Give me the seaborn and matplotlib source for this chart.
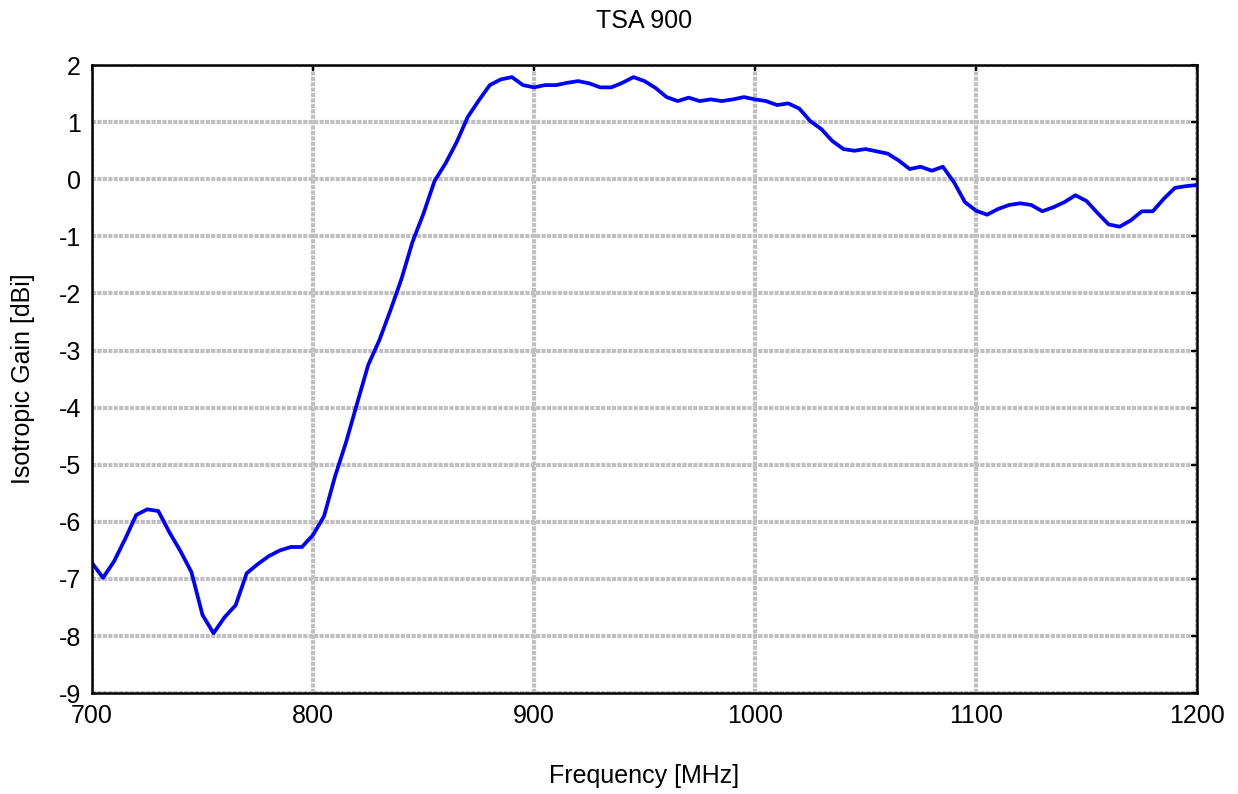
"""
Isotropic gain of the TSA 900 antenna versus frequency.
"""

import pandas as pd
import seaborn as sns
import matplotlib
matplotlib.use('Agg')
import matplotlib.pyplot as plt

# Frequency grid in MHz (5 MHz steps)
frequency_mhz = list(range(700, 1201, 5))

# Gain in dBi
gain_dbi = [
    -6.72, -6.98, -6.69, -6.30, -5.88, -5.78, -5.81, -6.18, -6.51, -6.88,
    -7.63, -7.95, -7.67, -7.46, -6.90, -6.74, -6.60, -6.50, -6.44, -6.44,
    -6.23, -5.90, -5.20, -4.60, -3.92, -3.25, -2.82, -2.30, -1.75, -1.10,
    -0.60, -0.03, 0.28, 0.65, 1.09, 1.38, 1.65, 1.75, 1.79, 1.65,
    1.61, 1.65, 1.65, 1.69, 1.72, 1.68, 1.61, 1.61, 1.69, 1.79,
    1.72, 1.60, 1.44, 1.37, 1.43, 1.37, 1.40, 1.37, 1.40, 1.44,
    1.40, 1.37, 1.30, 1.33, 1.24, 1.02, 0.88, 0.67, 0.53, 0.50,
    0.53, 0.49, 0.45, 0.33, 0.18, 0.22, 0.15, 0.22, -0.05, -0.40,
    -0.55, -0.62, -0.52, -0.45, -0.42, -0.45, -0.56, -0.49, -0.40, -0.28,
    -0.38, -0.59, -0.79, -0.83, -0.72, -0.56, -0.56, -0.34, -0.15, -0.12,
    -0.10,
]

x_ticks = [700, 800, 900, 1000, 1100, 1200]
y_ticks = list(range(-9, 3))

data = pd.DataFrame({'Frequency': frequency_mhz, 'Gain': gain_dbi})

sns.set_style('white')
plt.rcParams['font.family'] = ['Liberation Sans', 'DejaVu Sans']
plt.rcParams['axes.unicode_minus'] = False
plt.rcParams['text.color'] = 'black'
plt.rcParams['axes.labelcolor'] = 'black'

fig = plt.figure(figsize=(12.38, 7.94), dpi=100)
ax = fig.add_axes([0.0743, 0.127, 0.8926, 0.791])

sns.lineplot(x='Frequency', y='Gain', data=data, ax=ax,
             color='#0000ff', linewidth=2.7)

ax.set_xlim(700, 1200)
ax.set_ylim(-9, 2)
ax.set_xticks(x_ticks)
ax.set_yticks(y_ticks)
ax.grid(True, color='#c0c0c0', linestyle=(0, (1, 0.3)), linewidth=3)
ax.set_axisbelow(True)

for spine in ax.spines.values():
    spine.set_visible(True)
    spine.set_color('black')
    spine.set_linewidth(1.8)

ax.tick_params(direction='in', length=4, width=1.5, labelsize=18,
               top=True, right=True, pad=8, colors='black')

ax.set_xlabel('Frequency [MHz]', fontsize=18, labelpad=26)
ax.set_ylabel('Isotropic Gain [dBi]', fontsize=18, labelpad=17)
ax.set_title('TSA 900', fontsize=18, pad=27)

fig.savefig('out.png', dpi=100)
